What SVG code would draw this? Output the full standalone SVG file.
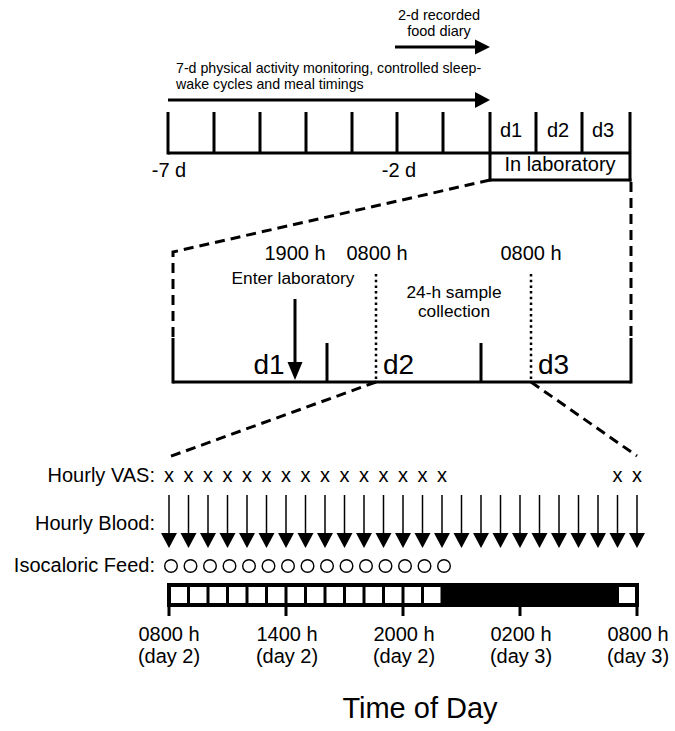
<svg xmlns="http://www.w3.org/2000/svg" xmlns:xlink="http://www.w3.org/1999/xlink" width="675" height="731" viewBox="0 0 675 731">
<style>
text{font-family:"Liberation Sans",Arial,sans-serif;fill:#000}
.t20{font-size:20px}
.t15{font-size:14.5px}
.t14{font-size:14.2px}
.t17{font-size:17.3px}
.t28{font-size:28px}
.mid{text-anchor:middle}
.end{text-anchor:end}
.ln{stroke:#000;stroke-width:3;fill:none;stroke-linecap:butt}
.dash{stroke:#000;stroke-width:3;fill:none;stroke-dasharray:10 6}
.dot{stroke:#000;stroke-width:2.5;fill:none;stroke-dasharray:2.5 3.2}
.thin{stroke:#000;stroke-width:1.5}
.circ{fill:none;stroke:#000;stroke-width:1.4}
</style>
<defs>
<g id="blood">
<line x1="0" y1="495" x2="0" y2="535" class="thin"/>
<polygon points="-8,533 8,533 0,548" fill="#000"/>
</g>
</defs>
<rect width="675" height="731" fill="#fff"/>

<g id="top-timeline">
<line x1="168" y1="153" x2="630" y2="153" class="ln"/>
<path class="ln" d="M168,112V154.5M214,112V153M260,112V153M306,112V153M352,112V153M397,112V153M443,112V153M490,112V181.5M536,112V153M582,112V153M630,112V181.5"/>
<line x1="490" y1="180" x2="631.5" y2="180" class="ln"/>
<text class="t20 mid" x="169" y="177">-7 d</text>
<text class="t20 mid" x="399" y="177">-2 d</text>
<text class="t20 mid" x="511" y="137">d1</text>
<text class="t20 mid" x="558" y="137">d2</text>
<text class="t20 mid" x="603" y="137">d3</text>
<text class="t20 mid" x="560" y="171">In laboratory</text>
</g>

<g id="food-diary">
<line x1="395" y1="47" x2="477" y2="47" class="ln"/>
<polygon points="475,39.5 490,47 475,54.5" fill="#000"/>
<text class="t15 mid" x="439" y="20">2-d recorded</text>
<text class="t15 mid" x="439" y="36">food diary</text>
</g>

<g id="activity">
<line x1="168" y1="100" x2="477" y2="100" class="ln"/>
<polygon points="475,92 490,100 475,108" fill="#000"/>
<text class="t14" x="176" y="73">7-d physical activity monitoring, controlled sleep-</text>
<text class="t14" x="176" y="88.5">wake cycles and meal timings</text>
</g>

<g id="connectors">
<path class="dash" d="M490,180 L173,252 L173,340"/>
<path class="dash" d="M631,182 L631,340"/>
<path class="dash" d="M376,382 L166,458"/>
<path class="dash" d="M531,382 L637,456"/>
</g>

<g id="middle-timeline">
<line x1="173" y1="382" x2="631" y2="382" class="ln"/>
<path class="ln" d="M173,338V383.5M327,343V382M481,343V382M631,338V383.5"/>
<line x1="376" y1="274" x2="376" y2="381" class="dot"/>
<line x1="531" y1="274" x2="531" y2="381" class="dot"/>
<text class="t20 mid" x="295" y="260">1900 h</text>
<text class="t20 mid" x="377" y="260">0800 h</text>
<text class="t20 mid" x="531" y="260">0800 h</text>
<text class="t17 mid" x="293" y="284">Enter laboratory</text>
<text class="t17 mid" x="454" y="298">24-h sample</text>
<text class="t17 mid" x="454" y="317">collection</text>
<text class="t28 mid" x="269" y="374">d1</text>
<text class="t28" x="383" y="374">d2</text>
<text class="t28" x="538" y="374">d3</text>
</g>

<g id="enter-arrow">
<line x1="295" y1="299" x2="295" y2="364" class="ln"/>
<polygon points="287.5,362 302.5,362 295,380" fill="#000"/>
</g>

<g id="row-labels">
<text class="t20 end" x="155" y="482">Hourly VAS:</text>
<text class="t20 end" x="155" y="530">Hourly Blood:</text>
<text class="t20 end" x="155" y="572">Isocaloric Feed:</text>
</g>

<g id="vas">
<text class="t20 mid" x="169" y="482">x</text>
<text class="t20 mid" x="188.5" y="482">x</text>
<text class="t20 mid" x="208" y="482">x</text>
<text class="t20 mid" x="227.5" y="482">x</text>
<text class="t20 mid" x="247" y="482">x</text>
<text class="t20 mid" x="266.5" y="482">x</text>
<text class="t20 mid" x="286" y="482">x</text>
<text class="t20 mid" x="305.5" y="482">x</text>
<text class="t20 mid" x="325" y="482">x</text>
<text class="t20 mid" x="344.5" y="482">x</text>
<text class="t20 mid" x="364" y="482">x</text>
<text class="t20 mid" x="383.5" y="482">x</text>
<text class="t20 mid" x="403" y="482">x</text>
<text class="t20 mid" x="422.5" y="482">x</text>
<text class="t20 mid" x="442" y="482">x</text>
<text class="t20 mid" x="617.5" y="482">x</text>
<text class="t20 mid" x="637" y="482">x</text>
</g>

<g id="blood-arrows">
<use xlink:href="#blood" x="169"/>
<use xlink:href="#blood" x="188.5"/>
<use xlink:href="#blood" x="208"/>
<use xlink:href="#blood" x="227.5"/>
<use xlink:href="#blood" x="247"/>
<use xlink:href="#blood" x="266.5"/>
<use xlink:href="#blood" x="286"/>
<use xlink:href="#blood" x="305.5"/>
<use xlink:href="#blood" x="325"/>
<use xlink:href="#blood" x="344.5"/>
<use xlink:href="#blood" x="364"/>
<use xlink:href="#blood" x="383.5"/>
<use xlink:href="#blood" x="403"/>
<use xlink:href="#blood" x="422.5"/>
<use xlink:href="#blood" x="442"/>
<use xlink:href="#blood" x="461.5"/>
<use xlink:href="#blood" x="481"/>
<use xlink:href="#blood" x="500.5"/>
<use xlink:href="#blood" x="520"/>
<use xlink:href="#blood" x="539.5"/>
<use xlink:href="#blood" x="559"/>
<use xlink:href="#blood" x="578.5"/>
<use xlink:href="#blood" x="598"/>
<use xlink:href="#blood" x="617.5"/>
<use xlink:href="#blood" x="637"/>
</g>

<g id="feeds">
<circle class="circ" cx="171" cy="566" r="6.3"/>
<circle class="circ" cx="190.5" cy="566" r="6.3"/>
<circle class="circ" cx="210" cy="566" r="6.3"/>
<circle class="circ" cx="229.5" cy="566" r="6.3"/>
<circle class="circ" cx="249" cy="566" r="6.3"/>
<circle class="circ" cx="268.5" cy="566" r="6.3"/>
<circle class="circ" cx="288" cy="566" r="6.3"/>
<circle class="circ" cx="307.5" cy="566" r="6.3"/>
<circle class="circ" cx="327" cy="566" r="6.3"/>
<circle class="circ" cx="346.5" cy="566" r="6.3"/>
<circle class="circ" cx="366" cy="566" r="6.3"/>
<circle class="circ" cx="385.5" cy="566" r="6.3"/>
<circle class="circ" cx="405" cy="566" r="6.3"/>
<circle class="circ" cx="424.5" cy="566" r="6.3"/>
<circle class="circ" cx="444" cy="566" r="6.3"/>
</g>

<g id="light-dark-bar">
<rect x="169" y="585" width="468" height="20" fill="#fff" stroke="#000" stroke-width="4"/>
<rect x="442" y="585" width="175.5" height="20" fill="#000"/>
<path class="ln" d="M188.5,585V605M208,585V605M227.5,585V605M247,585V605M266.5,585V605M286,585V605M305.5,585V605M325,585V605M344.5,585V605M364,585V605M383.5,585V605M403,585V605M422.5,585V605M442,585V605M617.5,585V605"/>
<path class="ln" d="M169,605V616M286,605V616M403,605V616M520,605V616M637,605V616"/>
</g>

<g id="time-labels">
<text class="t20 mid" x="169" y="641">0800 h</text>
<text class="t20 mid" x="169" y="663">(day 2)</text>
<text class="t20 mid" x="287" y="641">1400 h</text>
<text class="t20 mid" x="287" y="663">(day 2)</text>
<text class="t20 mid" x="404" y="641">2000 h</text>
<text class="t20 mid" x="404" y="663">(day 2)</text>
<text class="t20 mid" x="521" y="641">0200 h</text>
<text class="t20 mid" x="521" y="663">(day 3)</text>
<text class="t20 mid" x="638" y="641">0800 h</text>
<text class="t20 mid" x="638" y="663">(day 3)</text>
<text class="mid" x="420" y="718" style="font-size:29px">Time of Day</text>
</g>
</svg>
